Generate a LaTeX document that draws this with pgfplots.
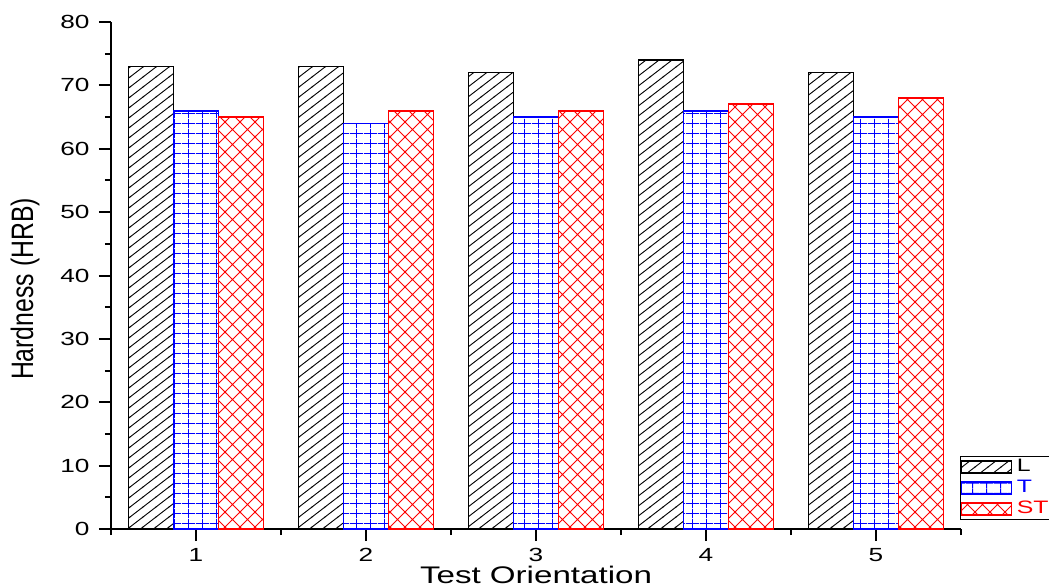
\documentclass[border=0pt]{standalone}
\usepackage{pgfplots}
\pgfplotsset{compat=1.18}
\usetikzlibrary{patterns}
\usepackage{fontspec}
\setmainfont{Liberation Sans}[FakeStretch=1.38]
\newfontfamily\yfont{Liberation Sans}[FakeStretch=0.8]

\pgfdeclarepatternformonly{Lhatch}{\pgfqpoint{-1pt}{-1pt}}{\pgfqpoint{14pt}{11pt}}{\pgfqpoint{13pt}{10pt}}{%
  \pgfsetlinewidth{0.9pt}%
  \pgfpathmoveto{\pgfqpoint{-1.3pt}{-1pt}}%
  \pgfpathlineto{\pgfqpoint{14.3pt}{11pt}}%
  \pgfusepath{stroke}}
\pgfdeclarepatternformonly{Tgrid}{\pgfqpoint{0pt}{0pt}}{\pgfqpoint{14pt}{10pt}}{\pgfqpoint{14pt}{10pt}}{%
  \pgfsetlinewidth{0.9pt}%
  \pgfpathmoveto{\pgfqpoint{0pt}{5pt}}\pgfpathlineto{\pgfqpoint{14pt}{5pt}}%
  \pgfpathmoveto{\pgfqpoint{7pt}{0pt}}\pgfpathlineto{\pgfqpoint{7pt}{10pt}}%
  \pgfusepath{stroke}}
\pgfdeclarepatternformonly{STcross}{\pgfqpoint{-1pt}{-1pt}}{\pgfqpoint{16pt}{16pt}}{\pgfqpoint{15pt}{15pt}}{%
  \pgfsetlinewidth{0.9pt}%
  \pgfpathmoveto{\pgfqpoint{-1pt}{-1pt}}\pgfpathlineto{\pgfqpoint{16pt}{16pt}}%
  \pgfpathmoveto{\pgfqpoint{-1pt}{16pt}}\pgfpathlineto{\pgfqpoint{16pt}{-1pt}}%
  \pgfusepath{stroke}}

\begin{document}
\begin{tikzpicture}
\useasboundingbox (0,0) rectangle (1049pt,587pt);
\clip (0,0) rectangle (1049pt,587pt);
\begin{axis}[
  at={(111pt,58pt)}, anchor=south west,
  width=850pt, height=507pt, scale only axis,
  xmin=0.5, xmax=5.5, ymin=0, ymax=80,
  axis x line*=bottom, axis y line*=left,
  axis line style={line width=2pt},
  xtick={1,2,3,4,5}, minor xtick={0.5,1.5,2.5,3.5,4.5,5.5},
  ytick={0,10,...,80}, minor ytick={5,15,...,75},
  tick align=outside,
  major tick length=12pt, minor tick length=6pt,
  tick style={line width=2pt, black},
  /pgf/number format/assume math mode=true,
  ticklabel style={font=\fontsize{19}{21}\selectfont},
  yticklabel style={xshift=-6pt},
  xticklabel style={yshift=-4pt},
  xlabel={Test Orientation},
  xlabel style={font=\fontsize{24}{26}\selectfont, at={(axis description cs:0.5,0)}, anchor=base, yshift=-54pt},
  ylabel={Hardness (HRB)},
  ylabel style={font=\yfont\fontsize{31}{34}\selectfont, at={([xshift=-86pt,yshift=-13.5pt]axis description cs:0,0.5)}, anchor=center},
  ybar, bar width=0.2647,
  legend style={at={(1,0)}, anchor=south west, xshift=-1pt, yshift=9pt, draw=black, line width=1pt, inner sep=0pt, column sep=3pt,
    font=\fontsize{18}{20}\selectfont, cells={anchor=west},
    nodes={inner sep=2pt, text height=13pt, text depth=4pt}},
  legend image code/.code={\draw[#1, line width=1.3pt] (0pt,-6pt) rectangle (50pt,6pt);},
]
\addplot[bar shift=-0.2647, draw=black, line width=1.5pt, pattern=Lhatch, pattern color=black]
  coordinates {(1,73) (2,73) (3,72) (4,74) (5,72)};
\addlegendentry{L}
\addplot[bar shift=0, draw=blue, line width=1.8pt, pattern=Tgrid, pattern color=blue]
  coordinates {(1,66) (2,64) (3,65) (4,66) (5,65)};
\addlegendentry{\textcolor{blue}{T}}
\addplot[bar shift=0.2647, draw=red, line width=1.8pt, pattern=STcross, pattern color=red]
  coordinates {(1,65) (2,66) (3,66) (4,67) (5,68)};
\addlegendentry{\textcolor{red}{ST}}
\end{axis}
\end{tikzpicture}
\end{document}
